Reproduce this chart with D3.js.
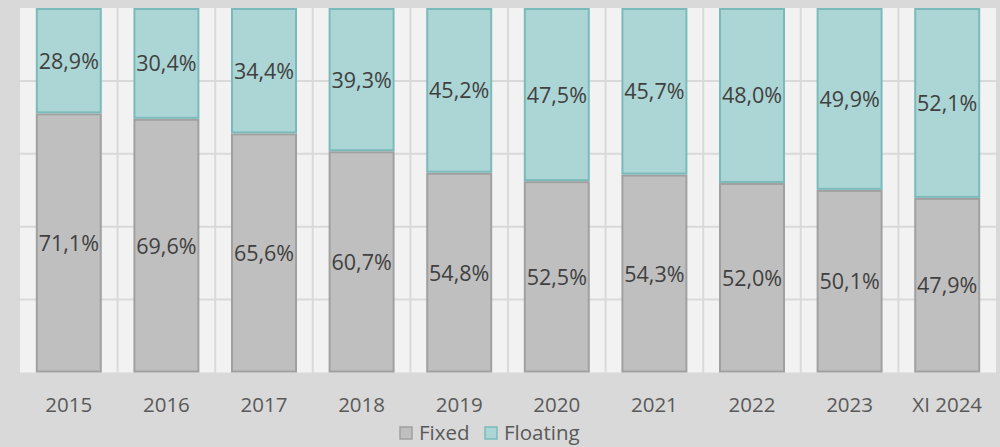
<!DOCTYPE html>
<html><head><meta charset="utf-8">
<script src="https://cdn.jsdelivr.net/npm/d3@7"></script>
<style>html,body{margin:0;padding:0;background:#d9d9d9;}svg{display:block;}</style>
</head><body>
<svg id="c" width="1000" height="447"></svg>
<script>
const categories = ["2015","2016","2017","2018","2019","2020","2021","2022","2023","XI 2024"];
const fixedValues = [71.1,69.6,65.6,60.7,54.8,52.5,54.3,52.0,50.1,47.9];
const floatingValues = [28.9,30.4,34.4,39.3,45.2,47.5,45.7,48.0,49.9,52.1];
const seriesNames = ["Fixed","Floating"];
const yTicks = [0,20,40,60,80,100];

const W = 1000, H = 447;
const plot = {left:20, right:996, top:8, bottom:372.5};
const colors = {
  Fixed: {fill:"#bfbfbf", stroke:"#a0a0a0"},
  Floating: {fill:"#acd5d5", stroke:"#7bbaba"}
};
const font = "'Open Sans', sans-serif";

const svg = d3.select("#c");
svg.append("rect").attr("width",W).attr("height",H).attr("fill","#d9d9d9");
svg.append("rect").attr("x",plot.left).attr("y",plot.top)
  .attr("width",plot.right-plot.left).attr("height",plot.bottom-plot.top).attr("fill","#f2f2f2");

const x = d3.scaleBand().domain(categories).range([plot.left,plot.right])
  .paddingInner(0.324).paddingOuter(0.162);
const y = d3.scaleLinear().domain([0,100]).range([plot.bottom,plot.top]);
const step = x.step();

svg.append("g").selectAll("line").data(yTicks.filter(t=>t>0&&t<100)).join("line")
  .attr("x1",plot.left).attr("x2",plot.right)
  .attr("y1",d=>y(d)).attr("y2",d=>y(d))
  .attr("stroke","#d9d9d9").attr("stroke-width",2);
svg.append("g").selectAll("line").data(categories.slice(1)).join("line")
  .attr("x1",d=>x(d)-x.paddingInner()*step/2).attr("x2",d=>x(d)-x.paddingInner()*step/2)
  .attr("y1",plot.top).attr("y2",plot.bottom)
  .attr("stroke","#d9d9d9").attr("stroke-width",2);

const rows = categories.map((c,i)=>({cat:c, Fixed:fixedValues[i], Floating:floatingValues[i]}));
const stacked = d3.stack().keys(seriesNames)(rows);

const g = svg.append("g");
stacked.forEach(layer=>{
  const key = layer.key;
  g.append("g").selectAll("rect").data(layer).join("rect")
    .attr("x",d=>x(d.data.cat)+1)
    .attr("width",x.bandwidth()-2)
    .attr("y",d=>y(d[1])+1)
    .attr("height",d=>y(d[0])-y(d[1])-2)
    .attr("fill",colors[key].fill)
    .attr("stroke",colors[key].stroke)
    .attr("stroke-width",2);
});
stacked.forEach(layer=>{
  g.append("g").selectAll("text").data(layer).join("text")
    .attr("x",d=>x(d.data.cat)+x.bandwidth()/2)
    .attr("y",d=>(y(d[0])+y(d[1]))/2 + 8)
    .attr("text-anchor","middle")
    .attr("font-family",font).attr("font-size",21.5).attr("fill","#404040")
    .text(d=>d3.format(".1f")(d[1]-d[0]).replace(".",",")+"%");
});

svg.append("g").selectAll("text").data(categories).join("text")
  .attr("x",d=>x(d)+x.bandwidth()/2)
  .attr("y",411.5)
  .attr("text-anchor","middle")
  .attr("font-family",font).attr("font-size",20.5).attr("fill","#595959")
  .text(d=>d);

const legend = svg.append("g");
const legendItems = [{name:"Fixed", sx:400, tx:419},{name:"Floating", sx:485, tx:504}];
legendItems.forEach(it=>{
  legend.append("rect").attr("x",it.sx).attr("y",427).attr("width",12).attr("height",12)
    .attr("fill",colors[it.name].fill).attr("stroke",colors[it.name].stroke).attr("stroke-width",1.5);
  legend.append("text").attr("x",it.tx).attr("y",440)
    .attr("font-family",font).attr("font-size",20.5).attr("fill","#595959").text(it.name);
});
</script>
</body></html>
